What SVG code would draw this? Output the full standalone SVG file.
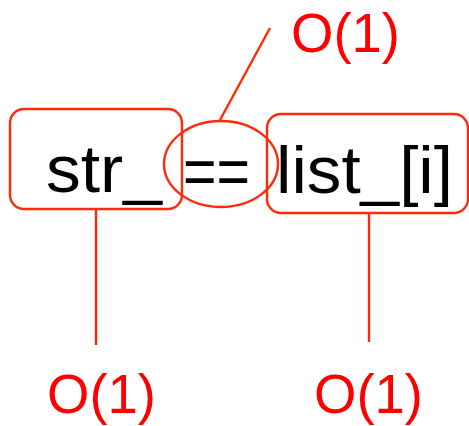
<svg xmlns="http://www.w3.org/2000/svg" width="469" height="426" viewBox="0 0 469 426">
<style>
.box{fill:none;stroke:#FF2A0A;stroke-width:2.4}
.ln{stroke:#FF2A0A;stroke-width:2.4;fill:none}
.code{font-family:"Liberation Sans","Open Sans",sans-serif;font-size:66px;fill:#000}
.big{font-family:"Liberation Sans","Open Sans",sans-serif;font-size:55px;fill:#FF0000}
</style>
<rect width="469" height="426" fill="#fff"/>
<g id="connectors">
<line class="ln" x1="96" y1="209" x2="96" y2="345"/>
<line class="ln" x1="369" y1="213" x2="369" y2="342"/>
<line class="ln" x1="270" y1="28" x2="220" y2="120"/>
</g>
<g id="str">
<rect class="box" x="10" y="109" width="172" height="100" rx="14"/>
<text class="code" x="46" y="192" textLength="116" lengthAdjust="spacingAndGlyphs">str_</text>
</g>
<g id="eq">
<ellipse class="box" cx="221" cy="164" rx="57" ry="43"/>
<text class="code" x="183" y="194" textLength="67" lengthAdjust="spacingAndGlyphs">==</text>
</g>
<g id="list">
<rect class="box" x="267" y="114" width="201" height="99" rx="14"/>
<text class="code" x="276" y="193" textLength="177" lengthAdjust="spacingAndGlyphs">list_[i]</text>
</g>
<g id="o_top"><text class="big" x="291" y="52" textLength="109" lengthAdjust="spacingAndGlyphs">O(1)</text></g>
<g id="o_left"><text class="big" x="47" y="413" textLength="109" lengthAdjust="spacingAndGlyphs">O(1)</text></g>
<g id="o_right"><text class="big" x="314" y="413" textLength="109" lengthAdjust="spacingAndGlyphs">O(1)</text></g>
</svg>
